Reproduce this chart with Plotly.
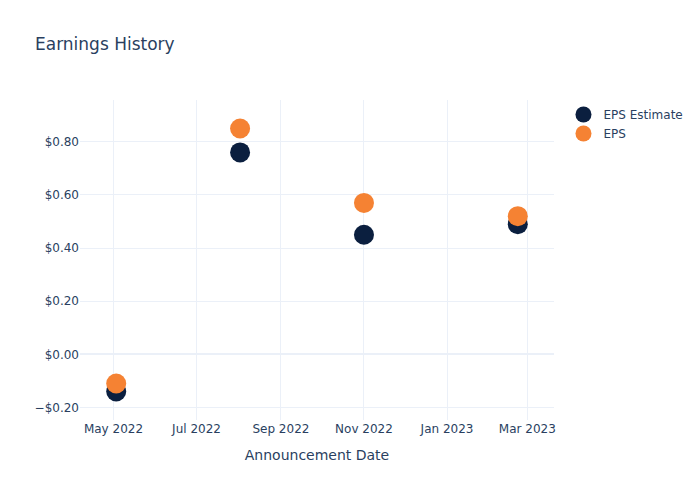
import plotly.graph_objects as go

dates = ["2022-05-03", "2022-08-02", "2022-11-01", "2023-02-22"]
eps_estimate = [-0.14, 0.76, 0.45, 0.49]
eps_actual = [-0.11, 0.85, 0.57, 0.52]

fig = go.Figure()
fig.add_trace(go.Scatter(x=dates, y=eps_estimate, mode="markers", name="EPS Estimate",
                         marker=dict(color="#0b1f3f", size=20)))
fig.add_trace(go.Scatter(x=dates, y=eps_actual, mode="markers", name="EPS",
                         marker=dict(color="#f58233", size=20)))
fig.update_layout(
    template="plotly_white",
    width=700, height=500,
    font=dict(family="DejaVu Sans"),
    title=dict(text="Earnings History"),
    xaxis=dict(title=dict(text="Announcement Date")),
    yaxis=dict(tickformat="$.2f"),
)
fig.write_html("out.html")
